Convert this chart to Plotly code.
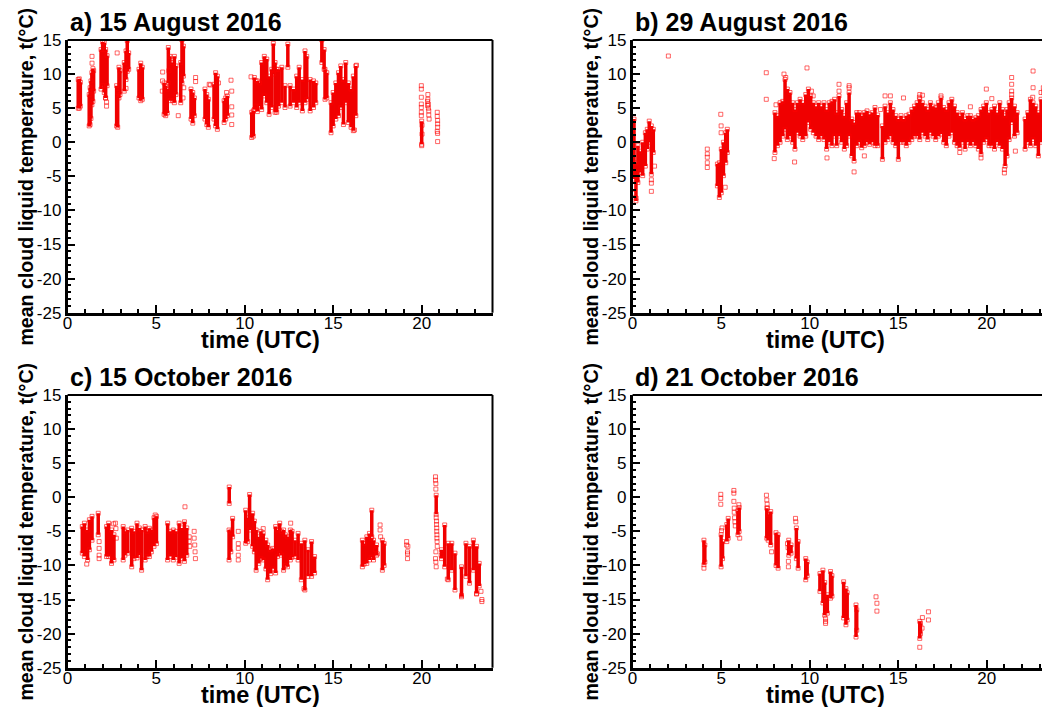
import plotly.graph_objects as go

W, H = 1050, 707

# ---------------- data ----------------
titles = ["a) 15 August 2016", "b) 29 August 2016", "c) 15 October 2016", "d) 21 October 2016"]
ylabel = "mean cloud liquid temperature, t(°C)"
xlabel = "time (UTC)"
xticks = [0, 5, 10, 15, 20]
yticks = [-25, -20, -15, -10, -5, 0, 5, 10, 15]
yticktext = ["-25", "-20", "-15", "-10", "-5", "0", "5", "10", "15"]

# panel a: dense columns (time, low, high) and single points
a_t = [0.60, 0.66, 0.72, 1.22, 1.27, 1.32, 1.37, 1.43, 1.47, 1.89, 1.98, 2.07, 2.15, 2.23,
       2.77, 2.83, 2.90, 2.96, 3.20, 3.30, 3.37, 3.45, 4.03, 4.13, 4.22, 5.45, 5.54, 5.63,
       5.69, 5.78, 5.93, 6.03, 6.12, 6.39, 6.46, 6.54, 6.97, 7.07, 7.16, 7.76, 7.86, 7.95,
       8.27, 8.36, 8.46, 8.84, 8.93, 9.02, 10.40, 10.49, 10.55, 10.64, 10.72, 10.83, 10.96,
       11.11, 11.25, 11.38, 11.53, 11.62, 11.72, 11.81, 11.91, 12.10, 12.28, 12.44, 12.57,
       12.76, 12.94, 13.08, 13.26, 13.41, 13.51, 13.70, 13.89, 14.02, 14.36, 14.49, 14.54,
       14.64, 14.88, 15.00, 15.15, 15.30, 15.43, 15.58, 15.71, 15.86, 16.01, 16.14, 16.28, 20.00]
a_lo = [5.0, 5.0, 5.3, 2.4, 2.6, 3.5, 5.5, 6.0, 7.5, 7.8, 8.3, 7.3, 6.5, 8.3,
        2.4, 2.2, 6.5, 7.0, 7.5, 9.2, 10.4, 10.7, 6.5, 6.1, 6.3, 4.1, 3.9, 4.3,
        8.7, 6.1, 6.1, 5.8, 7.0, 5.8, 8.7, 9.7, 3.4, 2.8, 3.9, 3.4, 2.6, 2.2,
        3.4, 2.4, 1.9, 2.9, 3.4, 3.9, 0.7, 0.9, 4.8, 5.3, 4.5, 5.3, 4.8,
        6.8, 5.8, 4.1, 5.1, 10.0, 4.4, 4.4, 5.3, 5.8, 5.1, 11.0, 5.3,
        5.8, 5.1, 5.8, 4.6, 5.8, 6.3, 4.6, 5.1, 5.8, 11.7, 10.7, 6.3,
        6.5, 1.4, 2.4, 3.4, 3.9, 5.1, 2.6, 5.8, 2.9, 2.2, 1.7, 3.9, -0.3]
a_hi = [9.2, 9.3, 8.8, 7.0, 8.0, 9.0, 10.2, 10.8, 10.5, 13.6, 14.7, 14.6, 13.6, 12.7,
        8.3, 7.3, 11.0, 10.5, 11.7, 13.4, 14.9, 13.1, 10.7, 11.6, 11.0, 8.7, 8.3, 7.8,
        13.9, 12.6, 11.7, 12.6, 11.2, 11.7, 15.0, 14.1, 7.8, 7.3, 6.5, 7.8, 7.0, 6.3,
        8.5, 10.2, 9.7, 6.1, 6.5, 6.8, 4.4, 4.6, 9.5, 9.0, 9.0, 8.7, 11.7,
        12.6, 12.2, 9.7, 10.7, 14.5, 11.7, 10.7, 10.7, 11.0, 8.3, 14.4, 8.3,
        7.8, 9.7, 11.0, 9.2, 13.4, 12.6, 9.2, 9.0, 8.7, 15.0, 13.6, 10.7,
        10.2, 5.8, 7.3, 8.7, 10.2, 11.2, 9.2, 11.7, 8.7, 7.8, 9.7, 11.2, 3.1]
a_pt_t = [1.38, 1.38, 2.20, 2.20, 2.14, 2.80, 3.30, 5.36, 5.37, 5.35, 5.72, 6.25, 6.52, 6.56,
          7.23, 7.23, 8.00, 8.06, 8.52, 8.98, 9.23, 9.27, 9.27, 9.27, 9.27, 10.36, 16.32, 16.20,
          19.98, 19.98, 19.98, 19.98, 19.98, 19.98, 19.98, 20.02, 20.02, 20.00,
          20.35, 20.35, 20.38, 20.38, 20.40, 20.40, 20.42, 20.33, 20.33,
          20.88, 20.88, 20.90, 20.90, 20.90, 20.88, 20.90, 20.90]
a_pt_v = [12.6, 11.6, 5.9, 5.3, 6.5, 13.1, 7.9, 9.0, 10.3, 7.5, 10.5, 3.9, 6.5, 8.0,
          9.5, 8.9, 8.5, 8.4, 8.7, 7.3, 9.1, 7.5, 5.2, 4.0, 2.6, 9.6, 11.3, 1.8,
          8.3, 7.8, 6.6, 5.6, 5.1, 4.4, 3.9, 2.5, 1.2, -0.5,
          7.0, 6.3, 5.6, 5.0, 4.6, 4.0, 3.4, 5.4, 6.0,
          4.4, 3.8, 3.2, 2.7, 2.2, 1.6, 1.3, 0.1]

# panel b
b_t = [0.08, 0.19, 0.30, 0.42, 0.57, 0.72, 0.83, 0.94, 1.06, 1.17, 4.79, 4.90, 5.01, 5.13, 5.26, 5.35,
       8.04, 8.18, 8.33, 8.48, 8.61, 8.74, 8.89, 9.04, 9.17, 9.31, 9.46, 9.61, 9.78, 9.93, 10.06,
       10.21, 10.36, 10.51, 10.66, 10.81, 10.96, 11.11, 11.26, 11.41, 11.53, 11.66, 11.81, 11.96,
       12.09, 12.23, 12.38, 12.51, 12.66, 12.81, 12.94, 13.09, 13.24, 13.39, 13.54, 13.69, 13.84,
       14.11, 14.26, 14.41, 14.56, 14.71, 14.86, 15.01, 15.16, 15.31, 15.46, 15.61, 15.77, 15.92,
       16.07, 16.22, 16.37, 16.52, 16.67, 16.82, 16.97, 17.12, 17.27, 17.42, 17.57, 17.72, 17.87,
       18.03, 18.18, 18.33, 18.48, 18.63, 18.78, 18.93, 19.08, 19.23, 19.38, 19.53, 19.68, 19.83,
       19.98, 20.13, 20.29, 20.44, 20.59, 20.74, 20.89, 21.04, 21.15, 21.27, 21.41, 21.57, 21.72,
       22.17, 22.32, 22.47, 22.62, 22.77, 22.92, 23.07, 23.22, 23.37, 23.52]
b_lo = [-5.4, -8.6, -5.9, -4.45, -4.9, -3.5, -1.0, 0.0, -4.7, -1.5, -6.4, -8.1, -7.4, -4.9, -3.0, -1.5,
        -1.5, -0.5, 0.0, 0.9, 1.9, 0.4, 0.9, 0.0, -1.0, 1.4, 0.9, 0.4, 0.9, 2.9, 1.9,
        1.4, 0.9, 0.4, 0.9, 0.4, -1.0, 0.0, -0.5, 0.9, -0.5, 0.9, 0.0, -1.0,
        -0.5, 0.9, -2.0, -2.75, -0.5, 0.0, -0.8, -0.5, 0.0, -0.3, 0.0, -0.5, -0.5,
        -2.5, 0.0, 0.4, 0.9, 0.0, -0.5, -2.5, 0.0, 0.0, -0.5, 0.0, 0.4, 0.9,
        0.9, 0.4, 1.4, 0.9, 0.4, 1.4, 0.9, 0.4, 0.9, 1.2, 0.0, -0.5, 0.9,
        1.4, 0.0, -0.5, -0.8, 0.0, -1.0, 0.0, -0.5, 0.0, -0.5, -1.0, -1.75, 0.0,
        0.4, -0.5, -0.5, -1.0, 0.0, -0.5, -1.0, -3.5, -2.0, 0.4, 2.9, 0.9, 1.4,
        -1.0, 0.0, -0.5, 0.4, -0.5, -2.0, 0.0, 1.9, 0.0, -0.5]
b_hi = [3.4, -3.0, -0.5, -1.3, 0.0, 1.4, 1.9, 3.1, 2.4, 1.9, -3.2, -3.0, -1.0, 0.0, 1.4, 1.9,
        4.35, 3.9, 5.8, 6.0, 9.2, 7.8, 7.3, 5.8, 4.8, 5.8, 6.3, 5.8, 7.0, 7.8, 6.8,
        5.8, 5.3, 5.8, 5.3, 5.8, 4.8, 5.8, 6.0, 6.3, 4.35, 6.8, 4.8, 3.9,
        5.8, 7.3, 3.4, 2.9, 4.35, 4.35, 3.9, 4.35, 4.6, 4.1, 4.35, 5.1, 4.0,
        2.4, 5.3, 4.35, 5.8, 4.8, 3.9, 3.4, 3.9, 3.4, 3.9, 4.1, 4.8, 5.3,
        5.8, 6.3, 5.8, 5.3, 4.8, 5.8, 5.3, 5.1, 5.8, 6.5, 5.1, 4.8, 5.8,
        6.3, 5.3, 4.35, 3.9, 4.35, 3.4, 3.9, 3.9, 3.4, 3.6, 3.9, 4.8, 5.3,
        5.8, 4.35, 4.8, 5.3, 4.35, 5.8, 4.8, 3.9, 4.8, 5.8, 6.5, 5.3, 4.35,
        3.4, 4.35, 6.3, 5.8, 5.3, 4.35, 6.3, 7.3, 5.8, 4.8]
b_pt_t = [2.02, 7.55, 7.55, 0.10, 0.20, 1.06, 1.06, 1.06, 1.24, 4.22, 4.22, 4.22, 4.22, 4.22,
          4.98, 5.00, 5.00, 5.23, 8.00, 8.55, 8.65, 9.15, 9.85, 10.10, 10.20, 11.66, 11.66,
          12.23, 12.51, 13.09, 14.26, 14.56, 15.30, 16.22, 16.20, 17.42, 19.08, 19.98, 20.29,
          21.41, 21.41, 21.41, 21.41, 21.00, 21.00, 21.62, 21.65, 22.62, 22.62, 23.07,
          19.68, 18.48, 12.23, 22.60, 23.20, 23.25, 16.37, 14.00, 8.10, 10.98]
b_pt_v = [12.65, 10.2, 6.3, -7.5, -8.2, -6.0, -7.2, -5.5, -3.5, -1.0, -1.7, -2.2, -3.0, -3.7,
          4.1, 2.4, 1.4, -6.6, -2.4, 10.0, 9.5, -2.9, 10.9, 7.5, 6.8, 8.5, 7.5,
          8.3, -4.35, -2.0, 6.8, 6.8, 6.5, 7.0, 6.6, 6.8, 5.2, 7.8, 6.4,
          9.5, 8.5, 7.5, 7.0, -4.5, -4.0, -1.3, 3.4, 10.45, 8.0, 7.3,
          -2.3, -1.5, 8.0, 6.6, 8.0, 7.6, 6.9, 4.8, 5.5, -2.3]

# panel c
c_t = [0.83, 0.95, 1.13, 1.23, 1.38, 1.73, 2.20, 2.32, 2.48, 2.62, 3.14, 3.24, 3.40, 3.62, 3.75,
       3.92, 4.05, 4.18, 4.38, 4.48, 4.62, 4.73, 4.88, 5.02, 5.65, 5.80, 5.97, 6.12, 6.30, 6.45,
       6.60, 6.73, 9.13, 9.12, 9.22, 9.32, 10.06, 10.17, 10.28, 10.45, 10.55, 10.65, 10.80,
       10.92, 11.05, 11.20, 11.30, 11.47, 11.58, 11.75, 11.85, 11.98, 12.08, 12.20, 12.30,
       12.42, 12.58, 12.68, 12.85, 13.02, 13.20, 13.40, 13.58, 13.78, 13.95, 16.65, 16.75,
       16.90, 17.05, 17.15, 17.18, 17.28, 17.45, 17.78, 17.88, 20.82, 21.12, 21.30, 21.50,
       21.70, 21.88, 22.25, 22.50, 22.70, 22.92, 23.10, 23.25]
c_lo = [-8.2, -8.7, -9.2, -7.7, -6.3, -5.5, -8.7, -8.7, -9.7, -9.2, -9.2, -8.5, -8.2, -10.2, -9.0,
        -8.9, -8.5, -10.7, -9.2, -8.7, -8.7, -8.0, -7.2, -6.8, -9.2, -8.7, -9.2, -8.8, -9.7, -9.0,
        -9.4, -8.5, -0.9, -9.2, -8.0, -5.8, -6.75, -6.5, -4.8, -7.2, -8.0, -10.7, -9.7,
        -9.0, -9.2, -10.5, -12.1, -11.2, -10.5, -11.1, -8.7, -8.2, -8.5, -10.7, -10.0,
        -10.2, -9.2, -8.8, -8.7, -9.2, -12.1, -13.6, -11.6, -11.6, -11.1, -10.2, -9.8,
        -9.7, -9.2, -8.8, -5.8, -9.2, -8.5, -10.7, -10.0, -2.5, -9.0, -10.2, -12.1,
        -10.7, -13.6, -14.6, -11.6, -12.6, -10.7, -14.1, -13.0]
c_hi = [-4.3, -3.8, -4.8, -3.3, -2.8, -2.35, -4.3, -3.8, -4.8, -5.5, -4.3, -5.0, -4.8, -4.55, -5.0,
        -3.8, -4.5, -4.8, -4.3, -5.0, -4.55, -4.8, -3.0, -2.8, -3.8, -5.0, -4.8, -5.0, -3.8, -4.5,
        -3.6, -4.5, 1.5, -4.8, -5.0, -3.1, -1.9, -3.0, 0.4, -2.35, -3.5, -4.8, -5.8,
        -5.0, -5.3, -6.3, -7.0, -7.7, -7.5, -4.3, -4.8, -3.8, -5.0, -4.8, -5.5,
        -5.8, -4.8, -5.0, -6.3, -5.3, -6.75, -6.3, -7.7, -6.5, -8.7, -6.3, -6.8,
        -5.8, -5.3, -6.0, -1.9, -6.3, -7.0, -6.3, -6.8, 0.3, -7.7, -4.06, -6.75,
        -6.75, -8.2, -10.2, -6.75, -7.2, -6.3, -7.2, -9.7]
c_pt_t = [1.08, 1.78, 1.78, 1.78, 1.78, 2.70, 2.73, 2.75, 2.60, 4.95, 6.63, 6.87, 6.87, 6.90,
          7.15, 7.15, 7.18, 7.20, 7.22, 9.64, 9.64, 9.64, 9.64, 9.64, 11.05, 12.60, 13.35,
          17.40, 17.50, 17.65, 17.65, 17.68, 19.15, 19.15, 19.20, 19.20, 19.20, 19.22,
          21.10, 21.45, 21.60, 23.35, 23.40, 23.40, 22.25, 23.10,
          20.78, 20.78, 20.80, 20.80, 20.82, 20.84, 20.84, 20.85, 20.85, 20.86, 20.86,
          20.87, 20.88, 20.80, 20.78, 20.80, 20.82]
c_pt_v = [-9.8, -6.5, -7.5, -8.5, -9.0, -3.8, -4.6, -6.0, -3.9, -2.6, -1.4, -5.8, -6.5, -7.2,
          -5.0, -6.0, -7.0, -8.0, -9.0, -5.0, -6.8, -7.5, -8.5, -9.2, -4.6, -3.8, -13.4,
          -7.7, -8.3, -4.06, -4.8, -5.8, -6.5, -7.0, -8.0, -8.3, -9.0, -7.2,
          -8.5, -12.0, -10.2, -13.8, -15.0, -15.3, -14.4, -14.2,
          3.0, 2.5, 2.0, 1.2, -3.0, -3.5, -4.0, -4.5, -5.0, -5.5, -6.0,
          -6.5, -7.2, -8.0, -9.0, -9.5, -10.2]

# panel d
d_t = [4.03, 4.08, 5.00, 5.08, 5.32, 5.40, 5.95, 6.02, 7.58, 7.66, 7.80, 8.10, 8.22, 8.82, 8.95,
       9.25, 9.35, 9.78, 9.86, 10.58, 10.75, 10.85, 11.00, 11.18, 11.26, 11.92, 12.05, 12.12,
       12.62, 12.66, 16.22, 16.26]
d_lo = [-9.9, -9.5, -10.2, -9.0, -6.5, -6.0, -5.5, -5.0, -6.0, -6.3, -7.0, -10.0, -10.4, -8.5, -8.2,
        -9.0, -10.4, -12.1, -11.5, -13.8, -15.5, -17.3, -17.0, -14.8, -14.5, -17.7, -18.7, -18.0,
        -20.5, -19.5, -20.7, -20.0]
d_hi = [-6.3, -7.0, -5.5, -6.5, -4.0, -3.1, -2.0, -1.5, -1.6, -2.5, -2.1, -5.2, -5.5, -6.3, -7.0,
        -4.5, -6.5, -9.0, -9.5, -11.2, -10.7, -12.5, -14.3, -10.9, -11.5, -12.4, -13.4, -14.0,
        -15.8, -16.5, -18.2, -18.5]
d_pt_t = [4.03, 4.98, 4.98, 4.98, 5.72, 5.72, 5.72, 5.74, 5.74, 5.76, 5.78, 5.80, 6.05, 6.00,
          7.56, 7.58, 7.60, 7.62, 7.85, 8.80, 8.80, 9.20, 9.22, 10.90, 10.90, 10.90,
          13.75, 13.80, 13.80, 16.22, 16.37, 16.35, 16.71, 16.71, 8.75, 8.78, 5.05, 5.02]
d_pt_v = [-10.4, 0.43, -0.15, -1.03, 1.0, 0.6, -0.6, -1.6, -2.2, -3.0, -3.6, -4.2, -6.0, -1.1,
          0.3, -0.4, -1.0, -1.6, -8.0, -9.4, -10.2, -3.1, -3.6, -17.8, -18.2, -18.5,
          -14.6, -15.55, -16.7, -22.0, -17.65, -19.2, -16.8, -18.0, -6.8, -7.4, -4.5, -4.9]

columns = [(a_t, a_lo, a_hi), (b_t, b_lo, b_hi), (c_t, c_lo, c_hi), (d_t, d_lo, d_hi)]
points = [(a_pt_t, a_pt_v), (b_pt_t, b_pt_v), (c_pt_t, c_pt_v), (d_pt_t, d_pt_v)]

# ---------------- layout geometry (screen pixels; page body has an 8px margin) ----------------
OFF = 8
LEFT_X0, LEFT_X1 = 67.6, 492.5
RIGHT_X0 = 632.6
PX_PER_H = (LEFT_X1 - LEFT_X0) / 24.0
TOP_Y0, TOP_Y1 = 40.0, 312.7
BOT_Y0, BOT_Y1 = 395.0, 667.7

def px(x):
    return (x - OFF) / W

def py(y):
    return 1 - (y - OFF) / H

right_max = (W + OFF - RIGHT_X0) / PX_PER_H

panels = [
    dict(xd=[px(LEFT_X0), px(LEFT_X1)], yd=[py(TOP_Y1), py(TOP_Y0)], xr=[0, 24], full=True, x0=LEFT_X0, ytop=TOP_Y0),
    dict(xd=[px(RIGHT_X0), 1.0], yd=[py(TOP_Y1), py(TOP_Y0)], xr=[0, right_max], full=False, x0=RIGHT_X0, ytop=TOP_Y0),
    dict(xd=[px(LEFT_X0), px(LEFT_X1)], yd=[py(BOT_Y1), py(BOT_Y0)], xr=[0, 24], full=True, x0=LEFT_X0, ytop=BOT_Y0),
    dict(xd=[px(RIGHT_X0), 1.0], yd=[py(BOT_Y1), py(BOT_Y0)], xr=[0, right_max], full=False, x0=RIGHT_X0, ytop=BOT_Y0),
]

RED = "rgb(240,0,0)"
MRK = dict(symbol="square-open", size=4, color="rgba(255,0,0,0.6)", line=dict(width=1, color="rgba(255,0,0,0.6)"))
TICKFONT = dict(family="Liberation Sans, Arial, sans-serif", size=17, color="black")
BOLD = "Liberation Sans, Arial, sans-serif"

fig = go.Figure()
annotations = []
shapes = []

for i, p in enumerate(panels):
    n = i + 1
    xa = "x" if n == 1 else f"x{n}"
    ya = "y" if n == 1 else f"y{n}"
    ts, los, his = columns[i]
    xs, ys = [], []
    for t, lo, hi in zip(ts, los, his):
        xs += [t, t, None]
        ys += [lo, hi, None]
    fig.add_trace(go.Scatter(x=xs, y=ys, mode="lines+markers", xaxis=xa, yaxis=ya,
                             line=dict(color=RED, width=3.5), marker=MRK, showlegend=False,
                             hoverinfo="skip"))
    pt, pv = points[i]
    fig.add_trace(go.Scatter(x=pt, y=pv, mode="markers", xaxis=xa, yaxis=ya,
                             marker=MRK, showlegend=False))

    xkey = "xaxis" if n == 1 else f"xaxis{n}"
    ykey = "yaxis" if n == 1 else f"yaxis{n}"
    fig.layout[xkey] = dict(domain=p["xd"], range=p["xr"], anchor=ya, tickmode="array",
                            tickvals=xticks, ticktext=[str(v) for v in xticks],
                            ticks="inside", ticklen=8, tickwidth=2, tickcolor="black",
                            minor=dict(dtick=1, tick0=0, ticks="inside", ticklen=4, tickwidth=1.5, tickcolor="black"),
                            showline=True, linewidth=2.5, linecolor="black", mirror=False,
                            showgrid=False, zeroline=False, tickfont=TICKFONT, automargin=False,
                            ticklabelstandoff=-7)
    fig.layout[ykey] = dict(domain=p["yd"], range=[-25, 15], anchor=xa, tickmode="array",
                            tickvals=yticks, ticktext=yticktext,
                            ticks="inside", ticklen=8, tickwidth=2, tickcolor="black",
                            minor=dict(dtick=1, tick0=0, ticks="inside", ticklen=4, tickwidth=1.5, tickcolor="black"),
                            showline=True, linewidth=2.5, linecolor="black", mirror=False,
                            showgrid=False, zeroline=False, tickfont=TICKFONT, automargin=False)
    # top border (and right border for the full panels)
    shapes.append(dict(type="line", xref=f"{xa} domain", yref=f"{ya} domain", x0=0, x1=1, y0=1, y1=1,
                       line=dict(color="black", width=2)))
    if p["full"]:
        shapes.append(dict(type="line", xref=f"{xa} domain", yref=f"{ya} domain", x0=1, x1=1, y0=0, y1=1,
                           line=dict(color="black", width=2)))

    x0 = p["x0"]
    ytop = p["ytop"]
    # panel title
    annotations.append(dict(text=f"<b>{titles[i]}</b>", xref="paper", yref="paper",
                            x=px(x0 + 0.5), y=py(ytop - 18), xanchor="left", yanchor="middle",
                            showarrow=False, font=dict(family=BOLD, size=25, color="black")))
    # y-axis title
    annotations.append(dict(text=f"<b>{ylabel}</b>", xref="paper", yref="paper",
                            x=px(x0 - 42), y=py(ytop + 137), xanchor="center", yanchor="middle",
                            textangle=-90, showarrow=False, font=dict(family=BOLD, size=19.6, color="black")))
    # x-axis title
    annotations.append(dict(text=f"<b>{xlabel}</b>", xref="paper", yref="paper",
                            x=px(x0 + 192.7), y=py(ytop + 299.5), xanchor="center", yanchor="middle",
                            showarrow=False, font=dict(family=BOLD, size=23.5, color="black")))

fig.update_layout(width=W, height=H, margin=dict(l=0, r=0, t=0, b=0, pad=0),
                  paper_bgcolor="white", plot_bgcolor="white",
                  annotations=annotations, shapes=shapes, showlegend=False)

fig.write_html("out.html")
